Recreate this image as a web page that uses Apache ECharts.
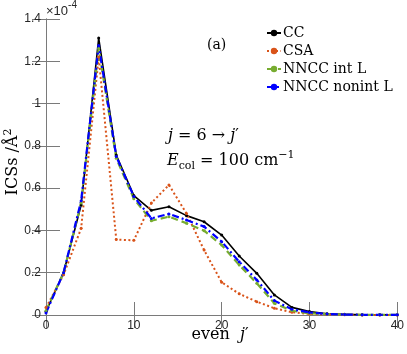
<!DOCTYPE html>
<html>
<head>
<meta charset="utf-8">
<script src="https://cdn.jsdelivr.net/npm/echarts@6/dist/echarts.min.js"></script>
<style>
  html, body { margin: 0; padding: 0; background: #fff; }
  #main { width: 407px; height: 354px; }
</style>
</head>
<body>
<div id="main"></div>
<script>
// even j' values
const jPrime = [0, 2, 4, 6, 8, 10, 12, 14, 16, 18, 20, 22, 24, 26, 28, 30, 32, 34, 36, 38, 40]

// ICSs in units of 1e-4 A^2
const ccVals = [0.016, 0.20, 0.52, 1.31, 0.757, 0.565, 0.495, 0.512, 0.470, 0.441, 0.378, 0.279, 0.197, 0.095, 0.036, 0.016, 0.006, 0.003, 0.001, 0.001, 0.001]
const csaVals = [0.035, 0.19, 0.41, 1.22, 0.357, 0.353, 0.53, 0.615, 0.48, 0.307, 0.155, 0.10, 0.063, 0.032, 0.013, 0.005, 0.002, 0.001, 0.0005, 0.0005, 0.0005]
const intLVals = [0.02, 0.20, 0.53, 1.26, 0.741, 0.55, 0.446, 0.465, 0.434, 0.399, 0.331, 0.237, 0.15, 0.055, 0.02, 0.008, 0.004, 0.002, 0.001, 0.001, 0.001]
const nonintLVals = [0.01, 0.20, 0.54, 1.275, 0.75, 0.56, 0.457, 0.478, 0.449, 0.418, 0.347, 0.252, 0.166, 0.068, 0.027, 0.012, 0.005, 0.002, 0.001, 0.001, 0.001]

const xTicks = [0, 10, 20, 30, 40]
const yTicks = [0, 0.2, 0.4, 0.6, 0.8, 1, 1.2, 1.4]

const pairs = vals => jPrime.map((j, i) => [j, vals[i]])

const axisGray = '#7a7a7a'
const serif = 'DejaVu Serif'

const chart = echarts.init(document.getElementById('main'), null, {renderer: 'canvas'})

const option = {
  animation: false,
  grid: {left: 46, right: 8, top: 19, bottom: 39},
  xAxis: [
    {
      type: 'value', min: xTicks[0], max: xTicks[xTicks.length - 1], interval: 10,
      axisLine: {lineStyle: {color: axisGray}},
      axisTick: {inside: true, length: 13, lineStyle: {color: axisGray}},
      axisLabel: {color: '#262626', fontFamily: 'Liberation Sans', fontSize: 12, margin: 5},
      splitLine: {show: false}
    },
    {
      type: 'value', position: 'top', min: 0, max: 40, interval: 10,
      axisLine: {lineStyle: {color: axisGray}},
      axisTick: {inside: true, length: 13, lineStyle: {color: axisGray}},
      axisLabel: {show: false},
      splitLine: {show: false}
    }
  ],
  yAxis: [
    {
      type: 'value', min: yTicks[0], max: yTicks[yTicks.length - 1], interval: 0.2,
      axisLine: {show: true, lineStyle: {color: axisGray}},
      axisTick: {show: true, inside: true, length: 14, lineStyle: {color: axisGray}},
      axisLabel: {
        color: '#262626', fontFamily: 'Liberation Sans', fontSize: 12, margin: 5,
        formatter: v => String(+v.toFixed(1))
      },
      splitLine: {show: false}
    },
    {
      type: 'value', position: 'right', min: 0, max: 1.4, interval: 0.2,
      axisLine: {show: true, lineStyle: {color: axisGray}},
      axisTick: {show: true, inside: true, length: 14, lineStyle: {color: axisGray}},
      axisLabel: {show: false},
      splitLine: {show: false}
    }
  ],
  legend: {
    orient: 'vertical',
    left: 261,
    top: 21,
    itemWidth: 14,
    itemHeight: 8,
    itemGap: 4,
    textStyle: {fontFamily: serif, fontSize: 14, color: '#000', padding: [0, 0, 0, -3]},
    data: ['CC', 'CSA', 'NNCC int L', 'NNCC nonint L']
  },
  graphic: [
    {
      type: 'text', left: 46, top: 0,
      style: {
        text: '{a|×10}{b|-4}',
        rich: {
          a: {fontFamily: 'Liberation Sans', fontSize: 13, fill: '#262626', lineHeight: 18, verticalAlign: 'bottom'},
          b: {fontFamily: 'Liberation Sans', fontSize: 10, fill: '#262626', lineHeight: 18, verticalAlign: 'top'}
        }
      }
    },
    {
      type: 'text', left: 207, top: 38,
      style: {text: '(a)', fontFamily: serif, fontSize: 14, fill: '#000'}
    },
    {
      type: 'text', left: 168, top: 128,
      style: {
        text: '{i|j}{r| = 6 → }{i|j}{r|′}',
        rich: {
          i: {fontFamily: serif, fontStyle: 'italic', fontSize: 16, fill: '#000'},
          r: {fontFamily: serif, fontSize: 16, fill: '#000'}
        }
      }
    },
    {
      type: 'text', left: 167, top: 150,
      style: {
        text: '{i|E}{s|col}{r| = 100 cm}{p|−1}',
        rich: {
          i: {fontFamily: serif, fontStyle: 'italic', fontSize: 16, fill: '#000', lineHeight: 22, verticalAlign: 'middle'},
          s: {fontFamily: serif, fontSize: 11, fill: '#000', lineHeight: 22, verticalAlign: 'bottom'},
          r: {fontFamily: serif, fontSize: 16, fill: '#000', lineHeight: 22, verticalAlign: 'middle'},
          p: {fontFamily: serif, fontSize: 11, fill: '#000', lineHeight: 22, verticalAlign: 'top'}
        }
      }
    },
    {
      type: 'text', x: 13, y: 162, rotation: Math.PI / 2,
      style: {
        text: '{r|ICSs /Å}{p|2}',
        align: 'center', verticalAlign: 'middle',
        rich: {
          r: {fontFamily: serif, fontSize: 16, fill: '#000', lineHeight: 20, verticalAlign: 'middle'},
          p: {fontFamily: serif, fontSize: 11, fill: '#000', lineHeight: 20, verticalAlign: 'top'}
        }
      }
    },
    {
      type: 'text', x: 220, y: 335,
      style: {
        text: '{r|even  }{i|j}{r|′}',
        align: 'center', verticalAlign: 'middle',
        rich: {
          i: {fontFamily: serif, fontStyle: 'italic', fontSize: 16, fill: '#000'},
          r: {fontFamily: serif, fontSize: 16, fill: '#000'}
        }
      }
    }
  ],
  series: [
    {
      name: 'CC', type: 'line', data: pairs(ccVals),
      symbol: 'circle', symbolSize: 3,
      itemStyle: {color: '#000'},
      lineStyle: {color: '#000', width: 1.6, type: 'solid'}
    },
    {
      name: 'CSA', type: 'line', data: pairs(csaVals),
      symbol: 'circle', symbolSize: 3,
      itemStyle: {color: '#D95319'},
      lineStyle: {color: '#D95319', width: 2, type: [2, 2.5]}
    },
    {
      name: 'NNCC int L', type: 'line', data: pairs(intLVals),
      symbol: 'circle', symbolSize: 3,
      itemStyle: {color: '#77AC30'},
      lineStyle: {color: '#77AC30', width: 2.2, type: [7, 4]}
    },
    {
      name: 'NNCC nonint L', type: 'line', data: pairs(nonintLVals),
      symbol: 'circle', symbolSize: 3,
      itemStyle: {color: '#0000FF'},
      lineStyle: {color: '#0000FF', width: 2.2, type: [7, 3, 2, 3]}
    }
  ]
}

chart.setOption(option)
</script>
</body>
</html>
